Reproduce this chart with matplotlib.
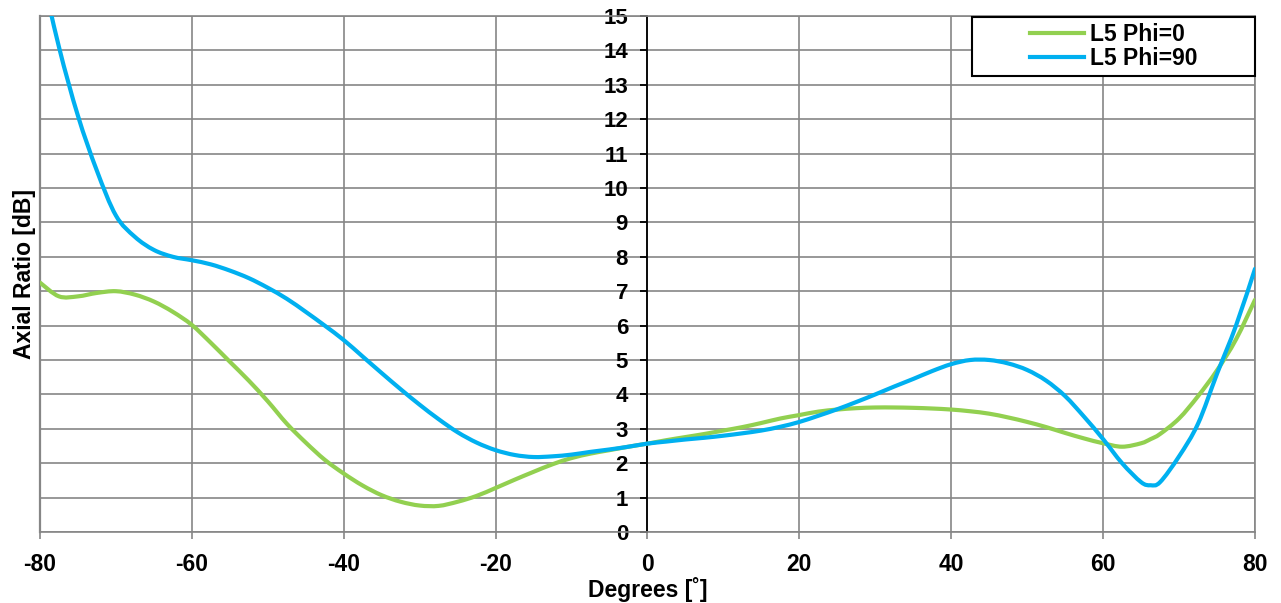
import matplotlib.pyplot as plt
from matplotlib.patches import Rectangle, PathPatch
from matplotlib.path import Path
from matplotlib.lines import Line2D

plt.rcParams['font.family'] = ['Liberation Sans', 'DejaVu Sans']
plt.rcParams['font.weight'] = 'bold'
plt.rcParams['axes.unicode_minus'] = False

# data (degrees vs axial ratio in dB)
angles = [-80, -77.5, -75, -72.5, -70, -67.5, -65, -62.5, -60, -57.5, -55, -52.5,
          -50, -47.5, -45, -42.5, -40, -37.5, -35, -32.5, -30, -27.5, -25, -22.5,
          -20, -17.5, -15, -12.5, -10, -7.5, -5, -2.5, 0, 2.5, 5, 7.5, 10, 12.5,
          15, 17.5, 20, 22.5, 25, 27.5, 30, 32.5, 35, 37.5, 40, 42.5, 45, 47.5,
          50, 52.5, 55, 57.5, 60, 62.5, 65, 66.25, 67.5, 70, 72.5, 75, 77.5, 80]

phi0 = [7.25, 6.85, 6.85, 6.95, 7.0, 6.9, 6.7, 6.4, 6.02, 5.5, 4.95, 4.4,
        3.8, 3.15, 2.6, 2.1, 1.7, 1.35, 1.07, 0.88, 0.77, 0.76, 0.88, 1.05,
        1.28, 1.52, 1.75, 1.97, 2.15, 2.28, 2.38, 2.48, 2.57, 2.67, 2.76, 2.85,
        2.95, 3.05, 3.17, 3.3, 3.4, 3.5, 3.56, 3.6, 3.62, 3.62, 3.61, 3.59,
        3.56, 3.51, 3.44, 3.33, 3.2, 3.05, 2.88, 2.72, 2.58, 2.48, 2.58, 2.7,
        2.85, 3.3, 3.95, 4.7, 5.6, 6.75]

phi90 = [16.5, 14.1, 12.1, 10.5, 9.2, 8.58, 8.2, 8.0, 7.9, 7.78, 7.6, 7.38,
         7.1, 6.78, 6.4, 6.0, 5.58, 5.1, 4.62, 4.15, 3.7, 3.28, 2.9, 2.6,
         2.38, 2.24, 2.18, 2.2, 2.25, 2.33, 2.4, 2.48, 2.57, 2.63, 2.69, 2.74,
         2.8, 2.87, 2.95, 3.06, 3.2, 3.38, 3.57, 3.78, 4.0, 4.23, 4.45, 4.68,
         4.88, 5.0, 5.0, 4.9, 4.71, 4.4, 3.95, 3.35, 2.7, 2.0, 1.45, 1.36,
         1.45, 2.2, 3.15, 4.6, 6.0, 7.65]

x_ticks = [-80, -60, -40, -20, 0, 20, 40, 60, 80]
y_ticks = list(range(0, 16))

grid_c = '#868686'
green = '#92D050'
blue = '#00B0F0'


def smooth_path(xs, ys):
    # Excel-style "smoothed line": cubic bezier through every data point
    pts = list(zip(xs, ys))
    verts = [pts[0]]
    codes = [Path.MOVETO]
    n = len(pts)
    for i in range(n - 1):
        p0 = pts[max(i - 1, 0)]
        p1 = pts[i]
        p2 = pts[i + 1]
        p3 = pts[min(i + 2, n - 1)]
        c1 = (p1[0] + (p2[0] - p0[0]) / 6, p1[1] + (p2[1] - p0[1]) / 6)
        c2 = (p2[0] - (p3[0] - p1[0]) / 6, p2[1] - (p3[1] - p1[1]) / 6)
        verts += [c1, c2, p2]
        codes += [Path.CURVE4] * 3
    return Path(verts, codes)


fig = plt.figure(figsize=(12.81, 6.03), dpi=100)
ax = fig.add_axes([0.0312, 0.1177, 0.9485, 0.8558])

for ys, col in [(phi0, green), (phi90, blue)]:
    ax.add_patch(PathPatch(smooth_path(angles, ys), fill=False, edgecolor=col,
                           lw=3, capstyle='round', joinstyle='round', zorder=3))

ax.set_xlim(-80, 80)
ax.set_ylim(0, 15)
ax.set_xticks(x_ticks)
ax.set_yticks(y_ticks)
ax.grid(True, color=grid_c, lw=1.2, zorder=0)

# y axis drawn through x = 0, frame in grey
ax.spines['left'].set_position(('data', 0))
ax.spines['left'].set_color('black')
ax.spines['left'].set_linewidth(1.3)
for s in ['top', 'right', 'bottom']:
    ax.spines[s].set_color(grid_c)
    ax.spines[s].set_linewidth(1.2)
ax.axvline(-80, color=grid_c, lw=1.6, clip_on=False, zorder=1)

ax.tick_params(axis='y', direction='out', length=5, width=1.3, color='black',
               pad=9, labelsize=16)
ax.tick_params(axis='x', direction='out', length=5, width=1.2, color=grid_c,
               pad=10, labelsize=16.5)
for lab in ax.get_xticklabels() + ax.get_yticklabels():
    lab.set_fontweight('bold')

ax.set_xlabel('Degrees [˚]', fontsize=16.5, fontweight='bold', labelpad=1)
ax.set_ylabel('Axial Ratio [dB]', fontsize=16.5, fontweight='bold')
ax.yaxis.set_label_coords(-0.0035, 0.5)

# legend box (content centred inside a wider frame)
ax.add_patch(Rectangle((0.767, 0.884), 0.233, 0.114, transform=ax.transAxes,
                       facecolor='white', edgecolor='black', lw=1.5,
                       zorder=4, clip_on=False))
handles = [Line2D([], [], color=green, lw=3), Line2D([], [], color=blue, lw=3)]
leg = ax.legend(handles, ['L5 Phi=0', 'L5 Phi=90'], loc='center',
                bbox_to_anchor=(0.8835, 0.941), frameon=False,
                fontsize=16.5, handlelength=2.36, handletextpad=0.26,
                labelspacing=0.05, borderpad=0)
leg.set_zorder(5)
for t in leg.get_texts():
    t.set_fontweight('bold')

fig.savefig('out.png', dpi=100)
